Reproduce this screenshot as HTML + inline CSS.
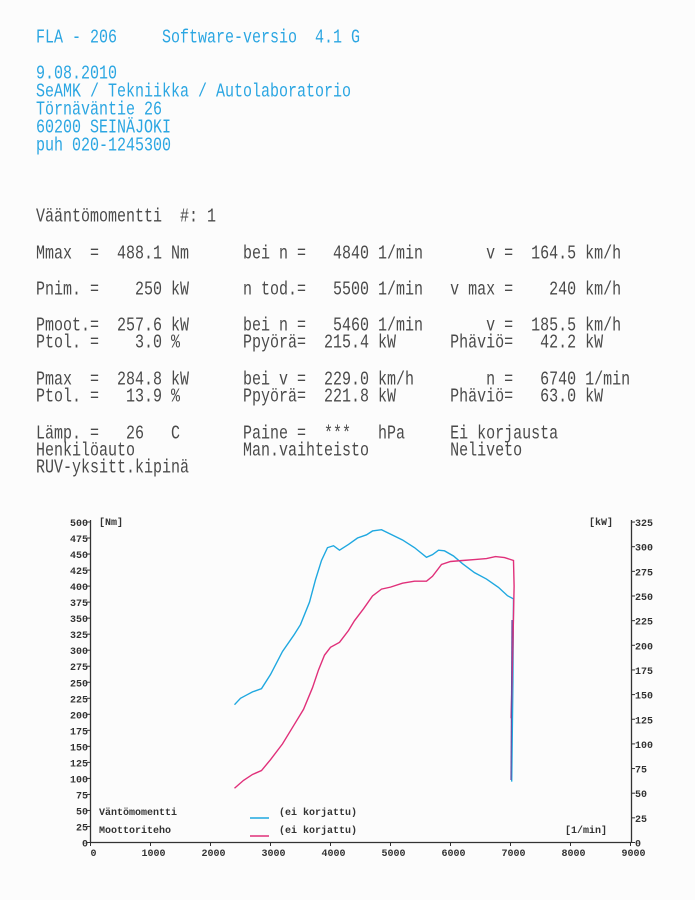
<!DOCTYPE html>
<html><head><meta charset="utf-8"><style>
body{margin:0;background:#fcfcfc;}
#p{position:relative;width:695px;height:900px;overflow:hidden;background:#fcfcfc;}
.l{position:absolute;left:36px;white-space:pre;font-family:"Liberation Mono",monospace;font-size:15px;line-height:15px;color:#4a4a4a;transform:scaleY(1.3);transform-origin:0 0;}
.b{color:#2ba6e2;}
svg text{font-family:"Liberation Mono",monospace;font-size:10px;fill:#333;font-weight:bold;}
</style></head><body><div id="p">
<div class="l b" style="top:28px">FLA - 206     Software-versio  4.1 G</div>
<div class="l b" style="top:64px">9.08.2010</div>
<div class="l b" style="top:82px">SeAMK / Tekniikka / Autolaboratorio</div>
<div class="l b" style="top:100px">Törnäväntie 26</div>
<div class="l b" style="top:118px">60200 SEINÄJOKI</div>
<div class="l b" style="top:136px">puh 020-1245300</div>
<div class="l" style="top:207px">Vääntömomentti  #: 1</div>
<div class="l" style="top:244px">Mmax  =  488.1 Nm      bei n =   4840 1/min       v =  164.5 km/h</div>
<div class="l" style="top:280px">Pnim. =    250 kW      n tod.=   5500 1/min   v max =    240 km/h</div>
<div class="l" style="top:316px">Pmoot.=  257.6 kW      bei n =   5460 1/min       v =  185.5 km/h</div>
<div class="l" style="top:333px">Ptol. =    3.0 %       Ppyörä=  215.4 kW      Phäviö=   42.2 kW</div>
<div class="l" style="top:370px">Pmax  =  284.8 kW      bei v =  229.0 km/h        n =   6740 1/min</div>
<div class="l" style="top:387px">Ptol. =   13.9 %       Ppyörä=  221.8 kW      Phäviö=   63.0 kW</div>
<div class="l" style="top:424px">Lämp. =   26   C       Paine =  ***   hPa     Ei korjausta</div>
<div class="l" style="top:441px">Henkilöauto            Man.vaihteisto         Neliveto</div>
<div class="l" style="top:458px">RUV-yksitt.kipinä</div>

<svg style="position:absolute;left:0;top:0" width="695" height="900">
<g stroke="#333" stroke-width="1.3" fill="none">
<line x1="90.5" y1="520" x2="90.5" y2="842.5"/>
<line x1="90" y1="842.5" x2="631" y2="842.5"/>
<line x1="631.5" y1="520" x2="631.5" y2="842.5"/>
</g>
<g id="ticks" stroke="#333" stroke-width="1"></g>
<g id="labs"></g>
<text x="99" y="525">[Nm]</text>
<text x="589" y="525">[kW]</text>
<text x="99" y="815">Väntömomentti</text>
<text x="99" y="833">Moottoriteho</text>
<text x="279" y="815">(ei korjattu)</text>
<text x="279" y="833">(ei korjattu)</text>
<text x="565" y="833">[1/min]</text>
<line x1="250" y1="818" x2="269" y2="818" stroke="#1fa8e0" stroke-width="1.5"/>
<line x1="250" y1="836" x2="269" y2="836" stroke="#e0307a" stroke-width="1.5"/>
<polyline id="tq" fill="none" stroke="#1fa8e0" stroke-width="1.4"/>
<polyline id="pw" fill="none" stroke="#e0307a" stroke-width="1.4"/>
<line x1="512" y1="620" x2="511" y2="780" stroke="#6a4aa0" stroke-width="1.2"/>
</svg>
<script>
var X=r=>90.5+r*0.0600, Yn=n=>842.5-n*0.641, Yk=k=>842.5-k*0.986;
var ns="http://www.w3.org/2000/svg",t=document.getElementById('ticks'),L=document.getElementById('labs');
function ln(a,b,c,d){var e=document.createElementNS(ns,'line');e.setAttribute('x1',a);e.setAttribute('y1',b);e.setAttribute('x2',c);e.setAttribute('y2',d);t.appendChild(e);}
function tx(x,y,s,a){var e=document.createElementNS(ns,'text');e.setAttribute('x',x);e.setAttribute('y',y);if(a)e.setAttribute('text-anchor',a);e.textContent=s;L.appendChild(e);}
for(var n=0;n<=500;n+=25){var y=Yn(n);ln(87,y,91,y);tx(88,y+4,n,'end');}
for(var k=0;k<=325;k+=25){var y=Yk(k);ln(631,y,635,y);tx(635,y+4,k);}
for(var r=0;r<=9000;r+=1000){var x=X(r);ln(x,842,x,846);tx(x+3,856,r,'middle');}
var tq=[[2400,215],[2500,225],[2600,230],[2700,235],[2850,240],[3000,262],[3200,298],[3400,325],[3500,340],[3650,375],[3750,410],[3850,440],[3950,460],[4050,463],[4150,456],[4300,465],[4450,475],[4600,480],[4700,486],[4850,488],[5000,481],[5200,472],[5400,460],[5600,445],[5700,449],[5800,456],[5900,455],[6050,447],[6200,435],[6400,421],[6600,411],[6800,398],[6950,385],[7050,380],[7040,250],[7020,95]];
var pw=[[2400,55],[2550,63],[2700,69],[2850,73],[3000,84],[3200,100],[3400,120],[3550,135],[3700,157],[3800,175],[3900,190],[4000,198],[4150,203],[4300,215],[4400,225],[4550,237],[4700,250],[4850,257],[5000,259],[5200,263],[5400,265],[5600,265],[5700,270],[5850,282],[6000,285],[6200,286],[6400,287],[6600,288],[6750,290],[6900,289],[7050,286],[7060,260],[7040,200],[7010,126]];
document.getElementById('tq').setAttribute('points',tq.map(p=>X(p[0])+','+Yn(p[1])).join(' '));
document.getElementById('pw').setAttribute('points',pw.map(p=>X(p[0])+','+Yk(p[1])).join(' '));
</script>
</div></body></html>
